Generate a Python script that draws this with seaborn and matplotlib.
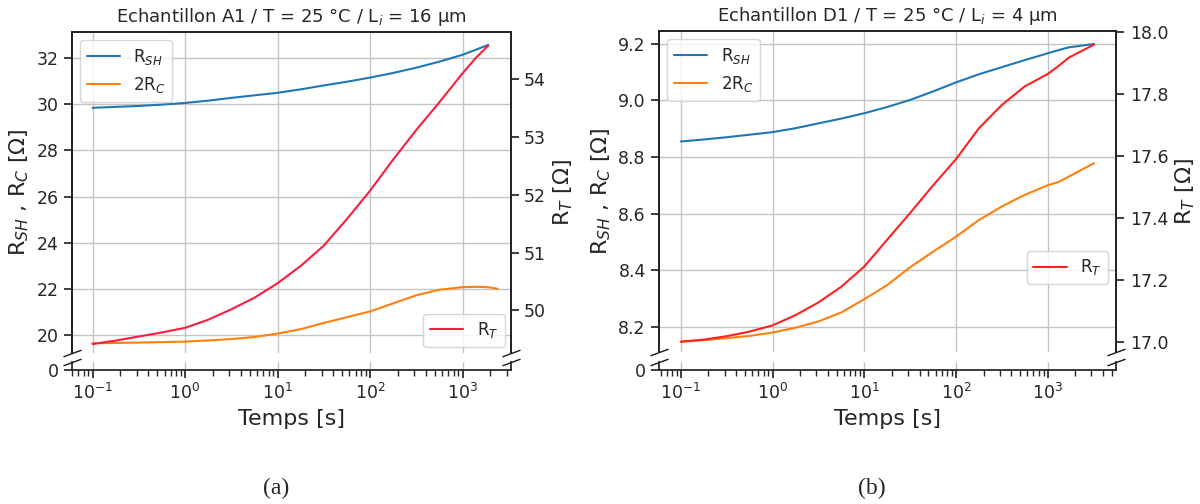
import matplotlib
matplotlib.use("Agg")
import matplotlib.pyplot as plt
import seaborn as sns

# ---- panel (a): Echantillon A1, Li = 16 um ----
temps_a = [0.1, 0.178, 0.316, 0.562, 1, 1.78, 3.16, 5.62, 10, 17.8, 31.6, 56.2,
           100, 178, 316, 562, 1000, 1400, 1900]
rsh_a = [29.85, 29.89, 29.93, 29.99, 30.06, 30.16, 30.28, 30.39, 30.50, 30.65, 30.82, 30.98,
         31.16, 31.36, 31.59, 31.85, 32.15, 32.37, 32.58]
rt_a = [49.42, 49.48, 49.55, 49.62, 49.70, 49.84, 50.02, 50.22, 50.47, 50.77, 51.12, 51.58,
        52.07, 52.61, 53.12, 53.60, 54.10, 54.37, 54.58]
temps_a_rc = [0.1, 0.178, 0.316, 0.562, 1, 1.78, 3.16, 5.62, 10, 17.8, 31.6, 56.2,
              100, 178, 316, 562, 1000, 1400, 1900, 2400]
rc2_a = [19.64, 19.65, 19.67, 19.69, 19.71, 19.76, 19.82, 19.91, 20.06, 20.25, 20.52, 20.77,
         21.02, 21.37, 21.72, 21.96, 22.07, 22.09, 22.07, 22.00]
yticks_a_left = [20, 22, 24, 26, 28, 30, 32]
yticks_a_right = [50, 51, 52, 53, 54]

# ---- panel (b): Echantillon D1, Li = 4 um ----
temps_b = [0.1, 0.178, 0.316, 0.562, 1, 1.78, 3.16, 5.62, 10, 17.8, 31.6, 56.2,
           100, 178, 316, 562, 1000, 1300, 1700, 3200]
rsh_b = [8.855, 8.862, 8.870, 8.879, 8.888, 8.902, 8.919, 8.936, 8.955, 8.977, 9.002, 9.032,
         9.064, 9.093, 9.118, 9.143, 9.167, 9.178, 9.188, 9.200]
rc2_b = [8.147, 8.152, 8.159, 8.167, 8.179, 8.196, 8.218, 8.250, 8.297, 8.347, 8.410, 8.465,
         8.518, 8.577, 8.625, 8.666, 8.700, 8.711, 8.731, 8.778]
rt_b = [17.000, 17.007, 17.018, 17.033, 17.053, 17.086, 17.127, 17.178, 17.243, 17.330, 17.416,
        17.505, 17.590, 17.690, 17.765, 17.825, 17.865, 17.890, 17.918, 17.960]
yticks_b_left = [8.2, 8.4, 8.6, 8.8, 9.0, 9.2]
yticks_b_right = [17.0, 17.2, 17.4, 17.6, 17.8, 18.0]

sns.set_theme(style="ticks")
plt.rcParams["font.family"] = ["DejaVu Sans"]
plt.rcParams["mathtext.fontset"] = "dejavusans"

fig = plt.figure(figsize=(12, 5.04), dpi=100)

GRID = dict(color="#c4c4c4", linewidth=1.0)
BREAK = dict(marker=[(-1, -0.37), (1, 0.37)], markersize=13, linestyle="none",
             color="k", mec="k", mew=1, clip_on=False)


def draw_panel(main_rect, low_rect, t, rsh, t_rc, rc2, rt, title, xlim, ylim_l, ylim_r,
               yt_l, yt_r, rt_color, rt_legend):
    ax = fig.add_axes(main_rect)
    low = fig.add_axes(low_rect, sharex=ax)
    ax2 = ax.twinx()

    sns.lineplot(x=t, y=rsh, ax=ax, color="#1f77b4", lw=1.5, label="R$_{SH}$")
    sns.lineplot(x=t_rc, y=rc2, ax=ax, color="#ff7f0e", lw=1.5, label="2R$_C$")
    sns.lineplot(x=t, y=rt, ax=ax2, color=rt_color, lw=1.5, label="R$_T$")

    ax.set_xscale("log")
    ax.set_xlim(*xlim)
    ax.set_ylim(*ylim_l)
    ax2.set_ylim(*ylim_r)
    ax.set_yticks(yt_l)
    ax2.set_yticks(yt_r)
    ax.grid(True, **GRID)
    low.grid(True, axis="x", **GRID)

    ax.spines["bottom"].set_visible(False)
    ax2.spines["bottom"].set_visible(False)
    low.spines["top"].set_visible(False)
    ax.tick_params(axis="x", which="both", bottom=False, labelbottom=False)
    ax.tick_params(axis="y", labelsize=12.5)
    ax2.tick_params(axis="y", labelsize=12.5)

    low.set_ylim(0, 1)
    low.set_yticks([0])
    low.tick_params(axis="both", labelsize=12.5)
    low.set_xlabel("Temps [s]", fontsize=16)

    ax.set_ylabel("R$_{SH}$ , R$_C$ [Ω]", fontsize=16)
    ax2.set_ylabel("R$_T$ [Ω]", fontsize=16)
    ax.set_title(title, fontsize=13, pad=7)

    ax.legend(loc="upper left", fontsize=12, framealpha=0.8)
    ax2.legend(fontsize=12, framealpha=0.8, **rt_legend)

    # broken-axis marks
    ax.plot([0, 1], [0, 0], transform=ax.transAxes, **BREAK)
    low.plot([0, 1], [1, 1], transform=low.transAxes, **BREAK)
    for a in (ax, ax2, low):
        for s in a.spines.values():
            s.set_color("#222222")
    return ax


draw_panel([0.0598, 0.3002, 0.3657, 0.6369], [0.0598, 0.2659, 0.3657, 0.0165],
           temps_a, rsh_a, temps_a_rc, rc2_a, rt_a,
           "Echantillon A1 / T = 25 °C / L$_i$ = 16 µm",
           (0.0596, 3311), (19.23, 33.15), (49.27, 54.82),
           yticks_a_left, yticks_a_right, "#fa1e3c",
           dict(loc="lower right", borderaxespad=0.35))

draw_panel([0.5492, 0.3010, 0.3812, 0.6381], [0.5492, 0.2659, 0.3812, 0.0165],
           temps_b, rsh_b, temps_b, rc2_b, rt_b,
           "Echantillon D1 / T = 25 °C / L$_i$ = 4 µm",
           (0.0578, 5623), (8.109, 9.247), (16.966, 18.005),
           yticks_b_left, yticks_b_right, "#ff2020",
           dict(loc="center right", bbox_to_anchor=(1, 0.264)))

fig.text(276 / 1200, 1 - 488 / 504, "(a)", family="Liberation Serif",
         fontsize=17, ha="center", va="center")
fig.text(872 / 1200, 1 - 488 / 504, "(b)", family="Liberation Serif",
         fontsize=17, ha="center", va="center")

fig.savefig("out.png", dpi=100, facecolor="white")
